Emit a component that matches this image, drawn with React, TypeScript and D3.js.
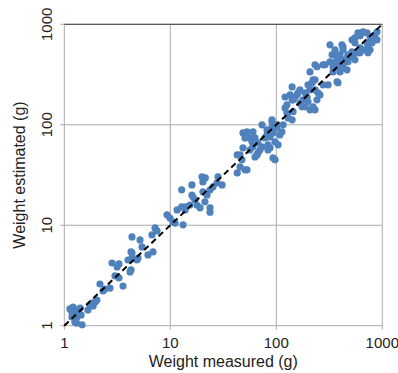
import React from "react";
import * as d3 from "d3";

const measured = [
  1.13, 1.21, 1.26, 1.35, 1.18, 1.32, 1.44, 1.26, 1.47, 1.31, 1.18, 1.41, 1.67, 1.82, 1.95, 1.87, 2.03, 1.75,
  2.17, 2.32, 2.7, 2.42, 2.82, 3.28, 3.01, 3.28, 3.58, 4.26, 4.35, 4.35, 4.26, 4.17, 4.85, 4.96, 4.35, 5.41,
  5.18, 6.16, 6.87, 6.72, 7.18, 7.5, 3.15, 3.99,
  9.31, 9.93, 10.6, 11.1, 13.2, 11.6, 12.8, 13.8, 16.4, 17.9, 16.0, 19.9, 20.3, 16.0, 17.1, 20.3, 22.2, 23.7,
  25.3, 27.6, 13.8, 15.3, 19.1, 23.7, 21.2, 21.4, 28.2, 30.8, 23.7, 12.8,
  42.8, 45.5, 47.5, 52.9, 42.8, 48.5, 48.5, 52.9, 56.5, 59.0, 60.3, 63.0, 67.1, 70.1, 73.3, 78.2, 81.7, 87.3,
  91.0, 91.0, 93.1, 101, 108, 104, 97.3, 113, 50.7, 50.7, 60.3, 63.0, 81.7, 91.0, 101, 67.1, 73.3, 83.6, 87.3,
  97.3, 45.5, 56.5, 65.8, 83.6, 93.1,
  116, 126, 121, 135, 141, 144, 150, 160, 167, 175, 179, 195, 208, 217, 222, 232, 242, 247, 258, 222, 208, 232,
  129, 141, 126, 141, 157, 167, 144, 199, 187, 187, 199, 121, 232, 276, 382, 232,
  208, 242, 276, 308, 288, 321, 343, 358, 374, 382, 399, 426, 426, 465, 474, 530, 552, 321, 426, 416, 518, 336,
  374, 399, 475, 474, 518, 343, 382, 426, 343, 358, 426,
  552, 590, 658, 718, 766, 817, 891, 718, 658, 617, 766, 733, 853, 891, 617, 643, 552, 617, 590, 733, 800,
];

const estimated = [
  1.47, 1.53, 1.37, 1.43, 1.22, 1.22, 1.28, 1.09, 1.02, 1.06, 1.37, 1.5, 1.43, 1.68, 1.72, 1.57, 1.8, 1.61,
  2.6, 2.22, 2.37, 2.32, 4.21, 4.12, 3.13, 2.99, 2.48, 5.42, 4.72, 5.3, 3.59, 3.43, 4.51, 4.72, 7.65, 6.08,
  7.14, 5.06, 5.42, 8.0, 9.4, 8.77, 3.84, 4.51,
  12.7, 11.8, 10.8, 10.5, 10.1, 14.2, 22.5, 14.2, 19.1, 15.8, 25.2, 30.3, 27.0, 20.0, 17.9, 21.5, 20.0, 22.5,
  24.1, 26.4, 15.2, 15.9, 14.9, 14.9, 17.1, 29.6, 30.3, 25.2, 13.5, 15.2,
  33.2, 38.1, 44.8, 35.6, 50.1, 58.9, 83.0, 85.0, 74.0, 67.6, 60.3, 47.9, 52.5, 56.2, 99.8, 74.0, 79.3, 75.7,
  93.1, 112, 83.0, 93.1, 79.3, 63.1, 44.8, 85.0, 35.6, 74.0, 85.0, 74.0, 88.9, 107, 99.8, 66.1, 60.3, 63.1, 58.9,
  67.6, 50.1, 56.2, 50.1, 56.2, 46.8,
  99.8, 131, 189, 198, 238, 177, 189, 208, 165, 151, 177, 189, 222, 261, 280, 222, 177, 208, 198, 151, 141, 141,
  117, 112, 158, 177, 199, 222, 135, 250, 208, 151, 169, 147, 395, 395, 262, 280,
  336, 378, 250, 250, 395, 424, 378, 521, 268, 424, 336, 395, 443, 352, 497, 474, 443, 625, 597, 625, 701, 497,
  464, 497, 424, 474, 532, 414, 378, 369, 336, 557, 557,
  735, 822, 841, 822, 750, 701, 701, 655, 557, 520, 557, 520, 785, 841, 768, 822, 655, 583, 520, 597, 655,
];

const tickValues = [1, 10, 100, 1000];
const tickLabels = ["1", "10", "100", "1000"];
const xTitle = "Weight measured (g)";
const yTitle = "Weight estimated (g)";

const W = 398;
const H = 373;
const L = 64.3;
const R = 382.3;
const T = 24.3;
const B = 325.7;

export default function App() {
  const x = d3.scaleLog().domain([1, 1000]).range([L, R]);
  const y = d3.scaleLog().domain([1, 1000]).range([B, T]);
  const font = "'Liberation Sans', Arial, sans-serif";
  const pts = measured.map((m, i) => [m, estimated[i]] as [number, number]);
  const diag = d3.line<number>().x((v) => x(v)).y((v) => y(v))([1, 1000]) as string;

  return (
    <svg
      width={W}
      height={H}
      style={{ position: "absolute", left: 0, top: 0, background: "#fff" }}
      fontFamily={font}
    >
      {/* grid lines */}
      {tickValues.map((t, i) => (
        <g key={"g" + i}>
          <line x1={x(t)} x2={x(t)} y1={T} y2={B + 4} stroke="#ababab" strokeWidth={1} />
          <line x1={L - 4} x2={R} y1={y(t)} y2={y(t)} stroke="#ababab" strokeWidth={1} />
        </g>
      ))}
      {/* top border darker */}
      <line x1={L} x2={R} y1={T} y2={T} stroke="#5a5a5a" strokeWidth={1.2} />

      {/* points */}
      {pts.map((p, i) => (
        <circle key={i} cx={x(p[0])} cy={y(p[1])} r={3.6} fill="#4f81bd" />
      ))}

      {/* diagonal */}
      <path d={diag} stroke="#000" strokeWidth={2} strokeDasharray="6,4" fill="none" />

      {/* x tick labels */}
      {tickValues.map((t, i) => (
        <text key={"xt" + i} x={x(t)} y={348} textAnchor="middle" fontSize={15} fill="#222">
          {tickLabels[i]}
        </text>
      ))}
      {/* y tick labels */}
      {tickValues.map((t, i) => (
        <text
          key={"yt" + i}
          transform={`translate(51.5,${y(t)}) rotate(-90)`}
          textAnchor="middle"
          fontSize={15}
          fill="#222"
        >
          {tickLabels[i]}
        </text>
      ))}
      <text x={(L + R) / 2} y={367} textAnchor="middle" fontSize={16} fill="#222">
        {xTitle}
      </text>
      <text
        transform={`translate(24.5,${(T + B) / 2}) rotate(-90)`}
        textAnchor="middle"
        fontSize={16}
        fill="#222"
      >
        {yTitle}
      </text>
    </svg>
  );
}
